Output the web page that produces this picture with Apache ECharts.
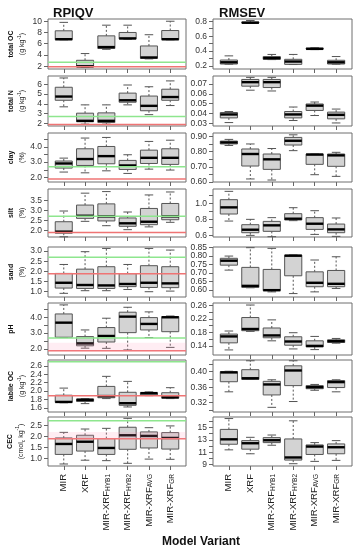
<!DOCTYPE html>
<html><head><meta charset="utf-8">
<script src="https://cdn.jsdelivr.net/npm/echarts@6/dist/echarts.min.js"></script>
<style>html,body{margin:0;padding:0;background:#fff}#c{width:355px;height:550px}</style>
</head><body><div id="c"></div>
<script>
// ---------- DATA ----------
const categories = ['MIR', 'XRF', 'MIR-XRF|HYB1', 'MIR-XRF|HYB2', 'MIR-XRF|AVG', 'MIR-XRF|GR'];
const properties = ['total OC', 'total N', 'clay', 'silt', 'sand', 'pH', 'labile OC', 'CEC'];
const unitKinds = ['gkg', 'gkg', 'pct', 'pct', 'pct', 'none', 'gkg', 'cmol'];

// box stats per category: [min, Q1, median, Q3, max]
const rpiqTotalOC = [[6.7, 6.72, 6.8, 8.3, 9.8], [1.85, 1.88, 1.98, 3.05, 4.25], [5.0, 5.15, 5.4, 7.4, 9.3], [6.8, 6.85, 6.95, 8.0, 9.3], [3.3, 3.4, 3.55, 5.6, 7.6], [6.7, 6.72, 6.8, 8.35, 10.0]];
const rpiqTotalN = [[3.7, 4.37, 4.75, 5.7, 6.65], [1.93, 2.17, 2.27, 3.05, 3.9], [1.93, 2.1, 2.27, 3.08, 3.9], [3.9, 4.17, 4.37, 5.1, 5.93], [2.9, 3.3, 3.8, 4.8, 5.75], [3.83, 4.37, 4.7, 5.5, 6.35]];
const rpiqClay = [[2.35, 2.61, 2.91, 3.07, 3.26], [2.3, 2.78, 3.2, 3.87, 4.57], [2.43, 2.89, 3.39, 4.02, 4.61], [2.26, 2.52, 2.78, 3.11, 3.48], [2.54, 2.91, 3.28, 3.78, 4.35], [2.48, 2.85, 3.28, 3.87, 4.43]];
const rpiqSilt = [[1.67, 1.85, 1.93, 2.43, 2.97], [2.45, 2.6, 2.73, 3.27, 3.87], [2.23, 2.47, 2.7, 3.33, 3.95], [2.03, 2.2, 2.35, 2.62, 2.92], [2.17, 2.28, 2.43, 3.1, 3.78], [2.4, 2.53, 2.7, 3.35, 3.93]];
const rpiqSand = [[0.92, 1.18, 1.44, 1.9, 2.34], [1.05, 1.16, 1.33, 2.11, 2.97], [1.05, 1.16, 1.31, 2.23, 3.13], [1.11, 1.25, 1.38, 1.89, 2.34], [1.0, 1.21, 1.44, 2.28, 3.13], [1.03, 1.2, 1.41, 2.23, 3.05]];
const rpiqPH = [[2.72, 2.74, 3.66, 4.21, 4.78], [2.05, 2.2, 2.35, 2.78, 3.2], [2.04, 2.44, 2.82, 3.35, 3.94], [1.94, 3.03, 4.04, 4.32, 4.63], [2.72, 3.2, 3.58, 3.98, 4.34], [2.1, 3.09, 4.0, 4.04, 4.08]];
const rpiqLabileOC = [[1.72, 1.73, 1.74, 1.9, 2.07], [1.7, 1.75, 1.79, 1.81, 1.82], [1.82, 1.84, 1.88, 2.11, 2.35], [1.62, 1.66, 1.71, 1.97, 2.23], [1.89, 1.91, 1.95, 1.96, 1.98], [1.82, 1.83, 1.85, 1.96, 2.08]];
const rpiqCEC = [[0.76, 1.19, 1.66, 1.93, 2.18], [0.93, 1.34, 1.76, 2.05, 2.33], [0.91, 1.19, 1.48, 1.9, 2.36], [0.79, 1.42, 2.05, 2.41, 2.81], [0.98, 1.48, 2.02, 2.2, 2.39], [0.97, 1.43, 1.93, 2.17, 2.47]];

const rmseTotalOC = [[0.225, 0.227, 0.25, 0.28, 0.336], [0.77, 0.777, 0.78, 0.79, 0.81], [0.286, 0.29, 0.305, 0.327, 0.355], [0.22, 0.222, 0.26, 0.29, 0.355], [0.42, 0.427, 0.43, 0.44, 0.445], [0.225, 0.227, 0.25, 0.277, 0.327]];
const rmseTotalN = [[0.0307, 0.0355, 0.039, 0.041, 0.042], [0.0638, 0.0679, 0.072, 0.0748, 0.0769], [0.063, 0.0665, 0.072, 0.0748, 0.0769], [0.0328, 0.0355, 0.039, 0.042, 0.0466], [0.0379, 0.0431, 0.048, 0.0497, 0.0517], [0.0303, 0.0345, 0.0386, 0.0414, 0.0445]];
const rmseClay = [[0.84, 0.85, 0.86, 0.869, 0.88], [0.62, 0.705, 0.784, 0.817, 0.85], [0.613, 0.683, 0.749, 0.784, 0.82], [0.806, 0.843, 0.871, 0.893, 0.91], [0.648, 0.716, 0.78, 0.784, 0.784], [0.637, 0.703, 0.775, 0.784, 0.795]];
const rmseSilt = [[0.781, 0.868, 0.95, 1.045, 1.148], [0.604, 0.637, 0.674, 0.736, 0.802], [0.588, 0.654, 0.728, 0.777, 0.823], [0.786, 0.794, 0.81, 0.872, 0.946], [0.616, 0.678, 0.748, 0.823, 0.909], [0.592, 0.637, 0.678, 0.744, 0.819]];
const rmseSand = [[0.717, 0.746, 0.772, 0.786, 0.799], [0.614, 0.616, 0.625, 0.733, 0.848], [0.59, 0.597, 0.6, 0.721, 0.844], [0.58, 0.684, 0.801, 0.805, 0.806], [0.59, 0.62, 0.643, 0.707, 0.776], [0.61, 0.62, 0.637, 0.715, 0.795]];
const rmsePH = [[0.128, 0.149, 0.168, 0.175, 0.184], [0.183, 0.185, 0.19, 0.224, 0.261], [0.155, 0.164, 0.171, 0.193, 0.217], [0.131, 0.142, 0.153, 0.167, 0.179], [0.129, 0.137, 0.14, 0.155, 0.168], [0.148, 0.15, 0.154, 0.158, 0.162]];
const rmseLabileOC = [[0.348, 0.374, 0.398, 0.4, 0.401], [0.38, 0.38, 0.383, 0.405, 0.428], [0.308, 0.34, 0.367, 0.375, 0.379], [0.323, 0.364, 0.403, 0.415, 0.428], [0.352, 0.356, 0.36, 0.364, 0.367], [0.348, 0.359, 0.373, 0.377, 0.379]];
const rmseCEC = [[11.38, 12.28, 13.07, 14.66, 16.4], [10.75, 11.49, 12.44, 12.86, 13.39], [12.12, 12.54, 12.92, 13.34, 13.76], [9.16, 9.74, 10.16, 13.13, 16.04], [9.53, 10.64, 11.91, 12.17, 12.54], [9.69, 10.75, 11.8, 12.33, 12.86]];

// RPIQ thresholds (green, red)
const rpiqThresholds = [2.7, 1.89];
// faint pink bands [low, high] per RPIQ panel (null = none)
const rpiqBands = [null, null, null, null, null, [1.89, 2.4], null, [1.89, 2.2]];

// y axis limits
const rpiqRanges = [[1.5, 10.4], [1.74, 6.85], [1.7, 4.9], [1.66, 4.08], [0.74, 3.2], [1.62, 4.9], [1.5, 2.74], [0.67, 2.87]];
const rmseRanges = [[0.16, 0.83], [0.0272, 0.0783], [0.6, 0.922], [0.584, 1.177], [0.56, 0.852], [0.113, 0.267], [0.296, 0.43], [8.79, 16.65]];

// y tick marks and labelled ticks
const rpiqTicks = [[2, 4, 6, 8, 10], [2, 3, 4, 5, 6], [2, 2.5, 3, 3.5, 4, 4.5], [2, 2.5, 3, 3.5], [1, 1.5, 2, 2.5, 3], [2, 2.5, 3, 3.5, 4, 4.5], [1.6, 1.8, 2, 2.2, 2.4, 2.6], [1, 1.5, 2, 2.5]];
const rpiqLabels = [[2, 4, 6, 8, 10], [2, 3, 4, 5, 6], [2, 3, 4], [2, 2.5, 3, 3.5], [1, 1.5, 2, 2.5, 3], [2, 3, 4], [1.6, 1.8, 2, 2.2, 2.4, 2.6], [1, 1.5, 2, 2.5]];
const rpiqDecimals = [0, 0, 1, 1, 1, 1, 1, 1];
const rmseTicks = [[0.2, 0.3, 0.4, 0.5, 0.6, 0.7, 0.8], [0.03, 0.04, 0.05, 0.06, 0.07], [0.6, 0.65, 0.7, 0.75, 0.8, 0.85, 0.9], [0.6, 0.7, 0.8, 0.9, 1.0, 1.1], [0.6, 0.65, 0.7, 0.75, 0.8, 0.85], [0.14, 0.16, 0.18, 0.2, 0.22, 0.24, 0.26], [0.3, 0.32, 0.34, 0.36, 0.38, 0.4, 0.42], [9, 10, 11, 12, 13, 14, 15, 16]];
const rmseLabels = [[0.2, 0.4, 0.6, 0.8], [0.03, 0.04, 0.05, 0.06, 0.07], [0.6, 0.7, 0.8, 0.9], [0.6, 0.8, 1.0], [0.6, 0.65, 0.7, 0.75, 0.8, 0.85], [0.14, 0.18, 0.22, 0.26], [0.32, 0.36, 0.4], [9, 11, 13, 15]];
const rmseDecimals = [1, 2, 2, 1, 2, 2, 2, 0];

const rpiqData = [rpiqTotalOC, rpiqTotalN, rpiqClay, rpiqSilt, rpiqSand, rpiqPH, rpiqLabileOC, rpiqCEC];
const rmseData = [rmseTotalOC, rmseTotalN, rmseClay, rmseSilt, rmseSand, rmsePH, rmseLabileOC, rmseCEC];

// ---------- LAYOUT ----------
const rowTops = [19, 76, 133, 189, 247, 303, 360, 417];
const rowBottoms = [69, 126, 182, 237, 297, 355, 412, 466];
const colLeft = [48, 213];
const colWidth = [138, 139];
const FONT = 'Liberation Sans, Arial, sans-serif';
const BOX_STROKE = '#555';

function unitName(kind, prop) {
  const b = '{b|' + prop + '}';
  if (kind === 'gkg') return b + '\n{u|(g kg}{sup|-1}{u|)}';
  if (kind === 'pct') return b + '\n{u|(%)}';
  if (kind === 'cmol') return b + '\n{u|(cmol}{sub|c}{u| kg}{sup|-1}{u|)}';
  return b + '\n{u| }';
}

function renderBox(params, api) {
  const x = api.value(0);
  const pMin = api.coord([x, api.value(1)]);
  const pQ1 = api.coord([x, api.value(2)]);
  const pMed = api.coord([x, api.value(3)]);
  const pQ3 = api.coord([x, api.value(4)]);
  const pMax = api.coord([x, api.value(5)]);
  const hw = api.size([0.4, 0])[0];
  const cw = hw / 2;
  const cx = pMed[0];
  const dash = { stroke: BOX_STROKE, lineWidth: 1, lineDash: [2, 2] };
  const solid = { stroke: BOX_STROKE, lineWidth: 1 };
  return {
    type: 'group', children: [
      { type: 'line', shape: { x1: cx, y1: pQ3[1], x2: cx, y2: pMax[1] }, style: dash },
      { type: 'line', shape: { x1: cx, y1: pQ1[1], x2: cx, y2: pMin[1] }, style: dash },
      { type: 'line', shape: { x1: cx - cw, y1: pMax[1], x2: cx + cw, y2: pMax[1] }, style: solid },
      { type: 'line', shape: { x1: cx - cw, y1: pMin[1], x2: cx + cw, y2: pMin[1] }, style: solid },
      { type: 'rect', shape: { x: cx - hw, y: pQ3[1], width: 2 * hw, height: Math.max(pQ1[1] - pQ3[1], 1) }, style: { fill: '#d3d3d3', stroke: BOX_STROKE, lineWidth: 1 } },
      { type: 'line', shape: { x1: cx - hw, y1: pMed[1], x2: cx + hw, y2: pMed[1] }, style: { stroke: '#000', lineWidth: 2.4 } }
    ]
  };
}

function renderHLine(params, api) {
  const cs = params.coordSys;
  const y = api.coord([1, api.value(0)])[1];
  const color = params.dataIndex === 0 ? '#8ee68e' : '#ef7474';
  return { type: 'line', shape: { x1: cs.x, y1: y, x2: cs.x + cs.width, y2: y }, style: { stroke: color, lineWidth: 1.5 } };
}

function renderBand(params, api) {
  const cs = params.coordSys;
  const y1 = api.coord([1, api.value(0)])[1];
  const y2 = api.coord([1, api.value(1)])[1];
  return { type: 'rect', shape: { x: cs.x, y: Math.min(y1, y2), width: cs.width, height: Math.abs(y1 - y2) }, style: { fill: 'rgba(255,150,185,0.17)' } };
}

const labelBase = (dec, vals) => ({ show: true, customValues: vals, showMinLabel: true, showMaxLabel: true, hideOverlap: false, formatter: v => v.toFixed(dec), fontSize: 8.5, color: '#333', margin: 6, fontFamily: FONT });

const grids = [], xAxes = [], yAxes = [], series = [];
for (let col = 0; col < 2; col++) {
  for (let row = 0; row < 8; row++) {
    const gi = grids.length;
    grids.push({ left: colLeft[col], width: colWidth[col], top: rowTops[row], height: rowBottoms[row] - rowTops[row], show: true, borderColor: '#6e6e6e', borderWidth: 1, backgroundColor: 'transparent' });
    const bottomRow = row === 7;
    xAxes.push({
      gridIndex: gi, type: 'value', min: 0.26, max: 6.74,
      axisLine: { show: false }, splitLine: { show: false },
      axisTick: { show: true, length: 4, lineStyle: { color: '#666' }, customValues: [1, 2, 3, 4, 5, 6] },
      axisLabel: bottomRow ? {
        show: true, customValues: [1, 2, 3, 4, 5, 6], rotate: 90, margin: 8, showMinLabel: true, showMaxLabel: true,
        formatter: v => { const c = categories[Math.round(v) - 1]; const p = c.split('|'); return p[1] ? '{m|' + p[0] + '}{s|' + p[1] + '}' : '{m|' + p[0] + '}'; },
        rich: { m: { fontSize: 9.5, color: '#222', fontFamily: FONT }, s: { fontSize: 6.5, color: '#222', fontFamily: FONT, verticalAlign: 'bottom', padding: [3, 0, 0, 0] } }
      } : { show: false }
    });
    const ranges = col === 0 ? rpiqRanges : rmseRanges;
    const ticks = col === 0 ? rpiqTicks : rmseTicks;
    const labels = (col === 0 ? rpiqLabels : rmseLabels)[row];
    const dec = (col === 0 ? rpiqDecimals : rmseDecimals)[row];
    const evenLabels = labels.filter((v, i) => i % 2 === 0);
    const oddLabels = labels.filter((v, i) => i % 2 === 1);
    const primaryIndex = yAxes.length;
    const y = {
      gridIndex: gi, type: 'value', position: 'left', offset: 0, min: ranges[row][0], max: ranges[row][1],
      axisLine: { show: false }, splitLine: { show: false },
      axisTick: { show: true, length: 4, lineStyle: { color: '#666' }, customValues: ticks[row] },
      axisLabel: labelBase(dec, evenLabels)
    };
    if (col === 0) {
      Object.assign(y, {
        name: unitName(unitKinds[row], properties[row]), nameLocation: 'middle', nameRotate: 90, nameGap: 20,
        nameTextStyle: {
          rich: {
            b: { fontSize: 7, fontWeight: 'bold', color: '#111', fontFamily: FONT, lineHeight: 11 },
            u: { fontSize: 7, color: '#222', fontFamily: FONT, lineHeight: 11 },
            sup: { fontSize: 5, color: '#222', fontFamily: FONT, verticalAlign: 'top' },
            sub: { fontSize: 5, color: '#222', fontFamily: FONT, verticalAlign: 'bottom' }
          }
        }
      });
    }
    yAxes.push(y);
    // second label-only axis on the same side, carrying the alternate labels (avoids auto-hiding)
    yAxes.push({
      gridIndex: gi, type: 'value', position: 'left', offset: 0, min: ranges[row][0], max: ranges[row][1],
      axisLine: { show: false }, splitLine: { show: false }, axisTick: { show: false },
      axisLabel: oddLabels.length ? labelBase(dec, oddLabels) : { show: false }
    });
    const data = (col === 0 ? rpiqData : rmseData)[row];
    if (col === 0 && rpiqBands[row]) {
      series.push({ type: 'custom', xAxisIndex: gi, yAxisIndex: primaryIndex, renderItem: renderBand, data: [rpiqBands[row]], encode: { y: [0, 1] }, z: 5, silent: true });
    }
    series.push({ type: 'custom', xAxisIndex: gi, yAxisIndex: primaryIndex, renderItem: renderBox, data: data.map((d, i) => [i + 1].concat(d)), encode: { x: 0, y: [1, 2, 3, 4, 5] }, z: 2, silent: true });
    if (col === 0) {
      series.push({ type: 'custom', xAxisIndex: gi, yAxisIndex: primaryIndex, renderItem: renderHLine, data: rpiqThresholds.map(v => [v]), encode: { y: 0 }, z: 4, silent: true });
    }
  }
}

const chart = echarts.init(document.getElementById('c'), null, { renderer: 'canvas' });
chart.setOption({
  animation: false,
  backgroundColor: '#fff',
  title: [
    { text: 'RPIQV', left: 48, top: 2, textStyle: { fontSize: 13, fontWeight: 'bold', color: '#111', fontFamily: FONT } },
    { text: 'RMSEV', left: 214, top: 2, textStyle: { fontSize: 13, fontWeight: 'bold', color: '#111', fontFamily: FONT } }
  ],
  graphic: [{ type: 'text', left: 162, top: 536, style: { text: 'Model Variant', fontSize: 12, fontWeight: 'bold', fill: '#111', fontFamily: FONT } }],
  grid: grids, xAxis: xAxes, yAxis: yAxes, series: series
});
</script></body></html>
